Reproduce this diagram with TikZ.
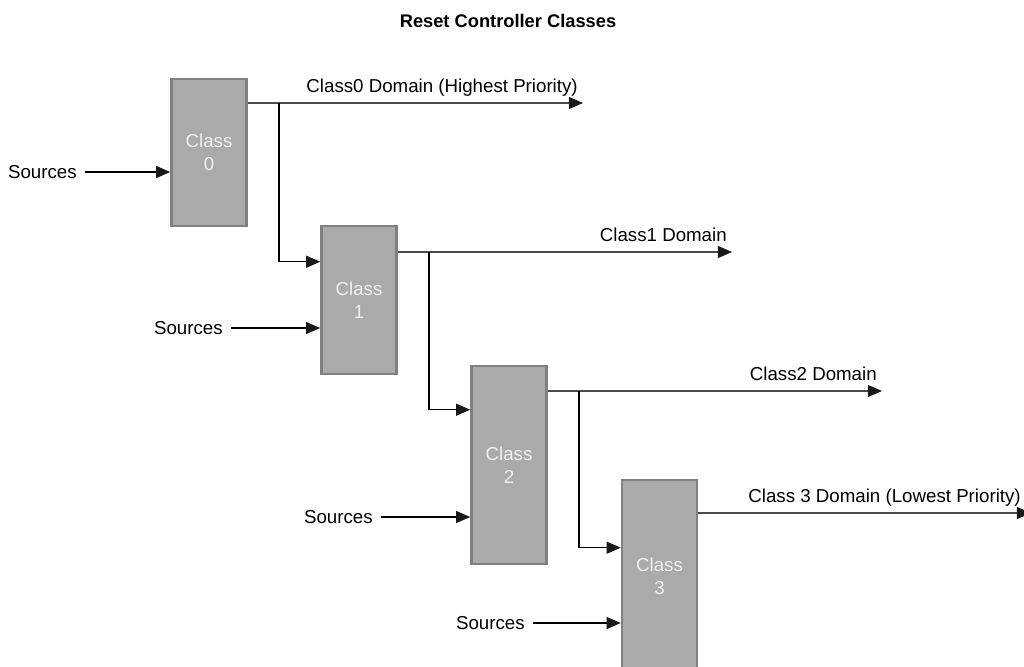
\documentclass[tikz,border=0pt]{standalone}
\usepackage{fontspec}
\setmainfont{Liberation Sans}
\usepackage{tikz}
\usetikzlibrary{arrows.meta, positioning, calc}

\definecolor{boxfill}{HTML}{AAAAAA}
\definecolor{boxline}{HTML}{808080}
\definecolor{domline}{HTML}{4A4A4A}

\tikzset{
  classbox/.style={draw=boxline, fill=boxfill, line width=1.8pt, minimum width=1.875cm,
                   text=white!94!black, align=center, inner sep=0pt},
  srclabel/.style={anchor=east, inner sep=0pt, inner xsep=5.7pt},
  domlabel/.style={anchor=base east, inner sep=0pt},
  feed/.style={line width=0.9pt, -{Triangle[length=10pt, width=8.5pt, color=black!90]}},
  domout/.style={feed, draw=domline},
}

\begin{document}
\begin{tikzpicture}[x=0.025cm, y=-0.025cm, font=\fontsize{13.3}{16.3}\selectfont]
    \clip (0,0) rectangle (1024,666);

    % Title
    \node[font=\fontsize{13}{16}\selectfont\bfseries] (title) at (508,21) {Reset Controller Classes};

    % Class blocks
    \node[classbox, minimum height=3.675cm] (c0) at (209,152.5) {Class\\0};
    \node[classbox, minimum height=3.7cm] (c1) at (359,300) {Class\\1};
    \node[classbox, minimum height=4.95cm] (c2) at (509,465) {Class\\2};
    \node[classbox, minimum height=4.8cm] (c3) at (659.5,576) {Class\\3};

    % Sources into each class
    \node[srclabel] (s0) at (85,172) {Sources};
    \node[srclabel] (s1) at (231,328) {Sources};
    \node[srclabel] (s2) at (381,517) {Sources};
    \node[srclabel] (s3) at (533,623) {Sources};
    \draw[feed] (s0) -- (s0 -| c0.west);
    \draw[feed] (s1) -- (s1 -| c1.west);
    \draw[feed] (s2) -- (s2 -| c2.west);
    \draw[feed] (s3) -- (s3 -| c3.west);

    % Domain outputs
    \coordinate (d0) at (583,103);
    \coordinate (d1) at (732,252);
    \coordinate (d2) at (882,391);
    \coordinate (d3) at (1031,513);
    \draw[domout] (c0.east |- d0) -- (d0);
    \draw[domout] (c1.east |- d1) -- (d1);
    \draw[domout] (c2.east |- d2) -- (d2);
    \draw[domout] (c3.east |- d3) -- (d3);
    \node[domlabel] (l0) at ($(d0)+(-5,-11)$) {Class0 Domain (Highest Priority)};
    \node[domlabel] (l1) at ($(d1)+(-5,-11)$) {Class1 Domain};
    \node[domlabel] (l2) at ($(d2)+(-5,-11)$) {Class2 Domain};
    \node[domlabel] (l3) at ($(d3)+(-10,-11)$) {Class 3 Domain (Lowest Priority)};

    % Cascade into the next class
    \coordinate (j0) at (279,103);
    \coordinate (j1) at (429,252);
    \coordinate (j2) at (579,391);
    \draw[feed] (j0) |- ($(c1.north west)+(0,37)$);
    \draw[feed] (j1) |- ($(c2.north west)+(0,45)$);
    \draw[feed] (j2) |- ($(c3.north west)+(0,69)$);
\end{tikzpicture}
\end{document}
